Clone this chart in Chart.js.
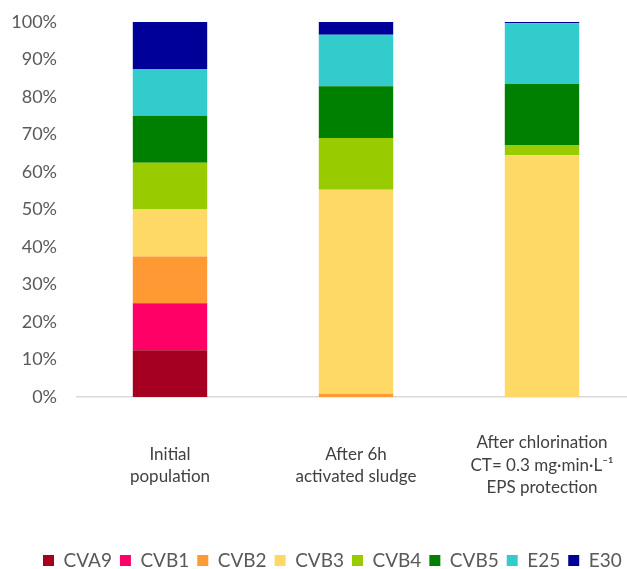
<!DOCTYPE html>
<html>
<head>
<meta charset="utf-8">
<script src="https://cdn.jsdelivr.net/npm/chart.js@4"></script>
<style>
  html, body { margin: 0; padding: 0; background: #ffffff; overflow: hidden; }
  #wrap { width: 627px; height: 569px; overflow: hidden; position: relative; }
  canvas { display: block; }
</style>
</head>
<body>
<div id="wrap"><canvas id="c" width="700" height="569" style="width:700px;height:569px"></canvas></div>
<script>
const categories = [
  ["Initial", "population"],
  ["After 6h", "activated sludge"],
  ["After chlorination", "CT= 0.3 mg\u00B7min\u00B7L\u207B\u00B9", "EPS protection"]
];
const seriesNames = ["CVA9", "CVB1", "CVB2", "CVB3", "CVB4", "CVB5", "E25", "E30"];
const CVA9 = [12.5, 0, 0];
const CVB1 = [12.5, 0, 0];
const CVB2 = [12.5, 0.9, 0];
const CVB3 = [12.5, 54.4, 64.5];
const CVB4 = [12.5, 13.8, 2.6];
const CVB5 = [12.5, 13.8, 16.4];
const E25  = [12.5, 13.7, 16.2];
const E30  = [12.5, 3.4, 0.3];
const yTicks = [0, 10, 20, 30, 40, 50, 60, 70, 80, 90, 100];

const seriesValues = [CVA9, CVB1, CVB2, CVB3, CVB4, CVB5, E25, E30];
const colors = ["#A50021", "#FF0066", "#FF9933", "#FFD966", "#99CC00", "#008000", "#33CCCC", "#000099"];

const FONT = "Lato, 'Open Sans', sans-serif";

const legendShift = {
  id: 'legendShift',
  afterLayout(chart) {
    const lg = chart.legend;
    if (!lg) return;
    lg.left = 35;
    lg.right = chart.width;
    lg.width = lg.right - lg.left;
    lg.top = 543;
  }
};

new Chart(document.getElementById('c'), {
  type: 'bar',
  data: {
    labels: categories,
    datasets: seriesNames.map((n, i) => ({
      label: n,
      data: seriesValues[i],
      backgroundColor: colors[i],
      borderWidth: 0,
      categoryPercentage: 1.0,
      barPercentage: 0.4
    }))
  },
  options: {
    responsive: false,
    animation: false,
    layout: { padding: { top: 22, right: 65, left: 0, bottom: 0 } },
    plugins: {
      legend: {
        position: 'bottom',
        align: 'start',
        labels: {
          boxWidth: 11,
          boxHeight: 11,
          padding: 8,
          color: '#595959',
          font: { family: FONT, size: 19 }
        }
      },
      tooltip: { enabled: false },
      title: { display: false }
    },
    scales: {
      x: {
        stacked: true,
        grid: { display: false, drawTicks: false },
        border: { display: true, color: '#D9D9D9', width: 1.5 },
        ticks: {
          color: '#404040',
          font: { family: FONT, size: 17, lineHeight: 1.32 },
          padding: 46,
          crossAlign: 'center',
          maxRotation: 0,
          autoSkip: false
        },
        afterFit(scale) {
          const lg = scale.chart.legend;
          scale.height = 569 - 397 - (lg ? lg.height : 0);
        }
      },
      y: {
        stacked: true,
        min: 0,
        max: 100,
        afterBuildTicks(scale) { scale.ticks = yTicks.map(v => ({ value: v })); },
        grid: { display: false, drawTicks: true, tickLength: 12 },
        border: { display: false },
        ticks: {
          color: '#595959',
          font: { family: FONT, size: 18 },
          padding: 8,
          callback: v => v + '%'
        },
        afterFit(scale) { scale.width = 77; }
      }
    }
  },
  plugins: [legendShift]
});
</script>
</body>
</html>
